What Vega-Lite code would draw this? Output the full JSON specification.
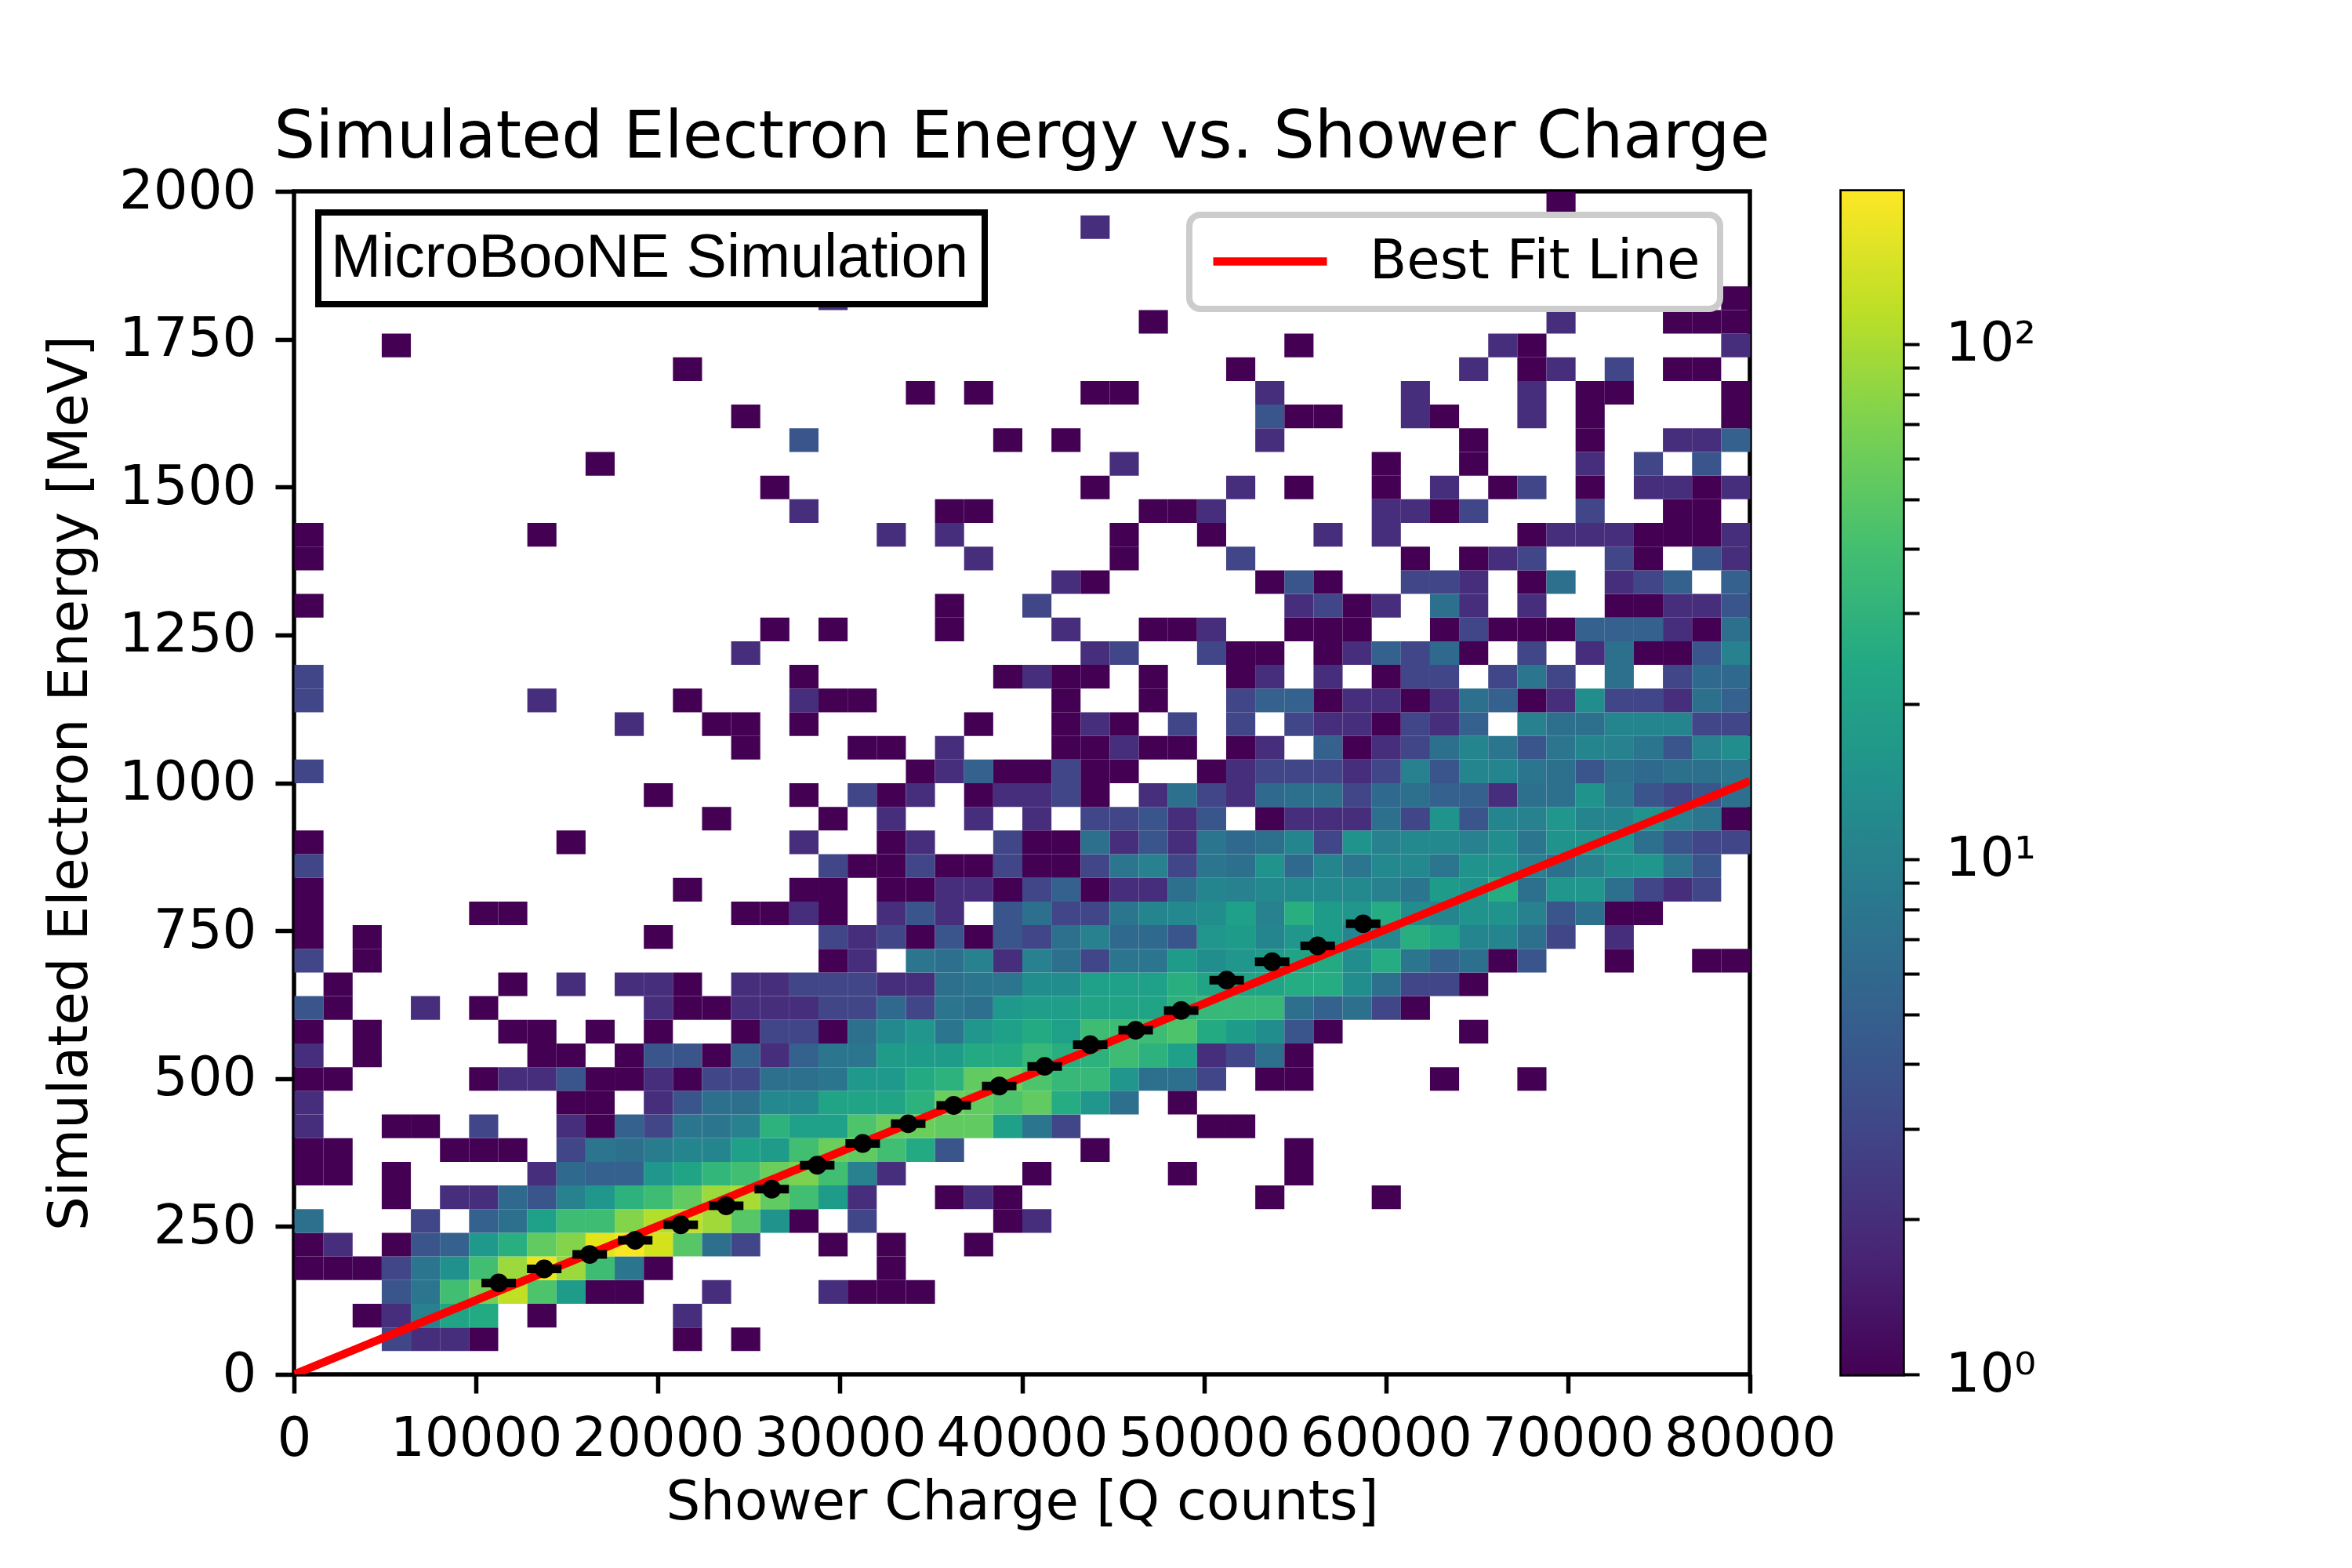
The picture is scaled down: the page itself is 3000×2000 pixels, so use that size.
{
  "$schema": "https://vega.github.io/schema/vega-lite/v6.json",
  "background": "white",
  "padding": {"left": 52, "top": 132, "right": 0, "bottom": 0},
  "bounds": "flush",
  "spacing": 117,
  "config": {
    "font": "DejaVu Sans",
    "view": {"stroke": "black", "strokeWidth": 5.5},
    "axis": {
      "domain": false, "grid": false,
      "labelFont": "DejaVu Sans", "labelFontSize": 69, "labelColor": "black", "labelLimit": 1000,
      "tickColor": "black", "tickSize": 24, "tickWidth": 5.5, "labelPadding": 24,
      "titleFont": "DejaVu Sans", "titleFontSize": 69, "titleFontWeight": "normal", "titleColor": "black",
      "labelFlush": false, "labelOverlap": false
    },
    "legend": {"strokeWidth": 8},
    "title": {"font": "DejaVu Sans", "fontSize": 83, "fontWeight": "normal", "color": "black"}
  },
  "datasets": {
    "cells": [
      {"q":5600,"e":60,"n":3},{"q":7200,"e":60,"n":2},{"q":8800,"e":60,"n":2},{"q":10400,"e":60,"n":1},{"q":21600,"e":60,"n":1},{"q":24800,"e":60,"n":1},
      {"q":4000,"e":100,"n":1},{"q":5600,"e":100,"n":2},{"q":7200,"e":100,"n":10},{"q":8800,"e":100,"n":22},{"q":10400,"e":100,"n":25},{"q":13600,"e":100,"n":1},{"q":21600,"e":100,"n":2},
      {"q":5600,"e":140,"n":4},{"q":7200,"e":140,"n":8},{"q":8800,"e":140,"n":40},{"q":10400,"e":140,"n":65},{"q":12000,"e":140,"n":120},{"q":13600,"e":140,"n":45},{"q":15200,"e":140,"n":18},{"q":16800,"e":140,"n":1},{"q":18400,"e":140,"n":1},{"q":23200,"e":140,"n":2},{"q":29600,"e":140,"n":2},{"q":31200,"e":140,"n":1},{"q":32800,"e":140,"n":1},{"q":34400,"e":140,"n":1},
      {"q":800,"e":180,"n":1},{"q":2400,"e":180,"n":1},{"q":4000,"e":180,"n":1},{"q":5600,"e":180,"n":3},{"q":7200,"e":180,"n":8},{"q":8800,"e":180,"n":14},{"q":10400,"e":180,"n":40},{"q":12000,"e":180,"n":90},{"q":13600,"e":180,"n":170},{"q":15200,"e":180,"n":90},{"q":16800,"e":180,"n":38},{"q":18400,"e":180,"n":8},{"q":20000,"e":180,"n":1},{"q":32800,"e":180,"n":1},
      {"q":800,"e":220,"n":1},{"q":2400,"e":220,"n":2},{"q":5600,"e":220,"n":1},{"q":7200,"e":220,"n":4},{"q":8800,"e":220,"n":5},{"q":10400,"e":220,"n":17},{"q":12000,"e":220,"n":28},{"q":13600,"e":220,"n":55},{"q":15200,"e":220,"n":75},{"q":16800,"e":220,"n":160},{"q":18400,"e":220,"n":190},{"q":20000,"e":220,"n":140},{"q":21600,"e":220,"n":50},{"q":23200,"e":220,"n":7},{"q":24800,"e":220,"n":3},{"q":29600,"e":220,"n":1},{"q":32800,"e":220,"n":1},{"q":37600,"e":220,"n":1},
      {"q":800,"e":260,"n":7},{"q":7200,"e":260,"n":3},{"q":10400,"e":260,"n":5},{"q":12000,"e":260,"n":7},{"q":13600,"e":260,"n":20},{"q":15200,"e":260,"n":38},{"q":16800,"e":260,"n":38},{"q":18400,"e":260,"n":75},{"q":20000,"e":260,"n":110},{"q":21600,"e":260,"n":120},{"q":23200,"e":260,"n":95},{"q":24800,"e":260,"n":50},{"q":26400,"e":260,"n":15},{"q":28000,"e":260,"n":1},{"q":31200,"e":260,"n":3},{"q":39200,"e":260,"n":1},{"q":40800,"e":260,"n":2},
      {"q":5600,"e":300,"n":1},{"q":8800,"e":300,"n":2},{"q":10400,"e":300,"n":2},{"q":12000,"e":300,"n":6},{"q":13600,"e":300,"n":4},{"q":15200,"e":300,"n":10},{"q":16800,"e":300,"n":16},{"q":18400,"e":300,"n":30},{"q":20000,"e":300,"n":38},{"q":21600,"e":300,"n":55},{"q":23200,"e":300,"n":90},{"q":24800,"e":300,"n":100},{"q":26400,"e":300,"n":55},{"q":28000,"e":300,"n":40},{"q":29600,"e":300,"n":18},{"q":31200,"e":300,"n":2},{"q":36000,"e":300,"n":1},{"q":37600,"e":300,"n":2},{"q":39200,"e":300,"n":1},{"q":53600,"e":300,"n":1},{"q":60000,"e":300,"n":1},
      {"q":800,"e":340,"n":1},{"q":2400,"e":340,"n":1},{"q":5600,"e":340,"n":1},{"q":13600,"e":340,"n":2},{"q":15200,"e":340,"n":6},{"q":16800,"e":340,"n":5},{"q":18400,"e":340,"n":5},{"q":20000,"e":340,"n":16},{"q":21600,"e":340,"n":22},{"q":23200,"e":340,"n":33},{"q":24800,"e":340,"n":40},{"q":26400,"e":340,"n":60},{"q":28000,"e":340,"n":70},{"q":29600,"e":340,"n":40},{"q":31200,"e":340,"n":10},{"q":32800,"e":340,"n":2},{"q":40800,"e":340,"n":1},{"q":48800,"e":340,"n":1},{"q":55200,"e":340,"n":1},
      {"q":800,"e":380,"n":1},{"q":2400,"e":380,"n":1},{"q":8800,"e":380,"n":1},{"q":10400,"e":380,"n":1},{"q":12000,"e":380,"n":1},{"q":15200,"e":380,"n":3},{"q":16800,"e":380,"n":8},{"q":18400,"e":380,"n":7},{"q":20000,"e":380,"n":9},{"q":21600,"e":380,"n":11},{"q":23200,"e":380,"n":11},{"q":24800,"e":380,"n":20},{"q":26400,"e":380,"n":18},{"q":28000,"e":380,"n":40},{"q":29600,"e":380,"n":60},{"q":31200,"e":380,"n":55},{"q":32800,"e":380,"n":40},{"q":34400,"e":380,"n":25},{"q":36000,"e":380,"n":4},{"q":44000,"e":380,"n":1},{"q":55200,"e":380,"n":1},
      {"q":800,"e":420,"n":2},{"q":5600,"e":420,"n":1},{"q":7200,"e":420,"n":1},{"q":10400,"e":420,"n":3},{"q":15200,"e":420,"n":2},{"q":16800,"e":420,"n":1},{"q":18400,"e":420,"n":5},{"q":20000,"e":420,"n":3},{"q":21600,"e":420,"n":8},{"q":23200,"e":420,"n":8},{"q":24800,"e":420,"n":10},{"q":26400,"e":420,"n":30},{"q":28000,"e":420,"n":20},{"q":29600,"e":420,"n":20},{"q":31200,"e":420,"n":45},{"q":32800,"e":420,"n":60},{"q":34400,"e":420,"n":60},{"q":36000,"e":420,"n":55},{"q":37600,"e":420,"n":55},{"q":39200,"e":420,"n":20},{"q":40800,"e":420,"n":8},{"q":42400,"e":420,"n":3},{"q":50400,"e":420,"n":1},{"q":52000,"e":420,"n":1},
      {"q":800,"e":460,"n":2},{"q":15200,"e":460,"n":1},{"q":16800,"e":460,"n":1},{"q":20000,"e":460,"n":2},{"q":21600,"e":460,"n":4},{"q":23200,"e":460,"n":7},{"q":24800,"e":460,"n":7},{"q":26400,"e":460,"n":12},{"q":28000,"e":460,"n":12},{"q":29600,"e":460,"n":22},{"q":31200,"e":460,"n":22},{"q":32800,"e":460,"n":22},{"q":34400,"e":460,"n":30},{"q":36000,"e":460,"n":60},{"q":37600,"e":460,"n":55},{"q":39200,"e":460,"n":45},{"q":40800,"e":460,"n":55},{"q":42400,"e":460,"n":26},{"q":44000,"e":460,"n":16},{"q":45600,"e":460,"n":7},{"q":48800,"e":460,"n":1},
      {"q":800,"e":500,"n":1},{"q":2400,"e":500,"n":1},{"q":10400,"e":500,"n":1},{"q":12000,"e":500,"n":2},{"q":13600,"e":500,"n":2},{"q":15200,"e":500,"n":4},{"q":16800,"e":500,"n":1},{"q":18400,"e":500,"n":1},{"q":20000,"e":500,"n":2},{"q":21600,"e":500,"n":1},{"q":23200,"e":500,"n":3},{"q":24800,"e":500,"n":3},{"q":26400,"e":500,"n":7},{"q":28000,"e":500,"n":7},{"q":29600,"e":500,"n":8},{"q":31200,"e":500,"n":17},{"q":32800,"e":500,"n":17},{"q":34400,"e":500,"n":25},{"q":36000,"e":500,"n":30},{"q":37600,"e":500,"n":55},{"q":39200,"e":500,"n":60},{"q":40800,"e":500,"n":45},{"q":42400,"e":500,"n":35},{"q":44000,"e":500,"n":35},{"q":45600,"e":500,"n":16},{"q":47200,"e":500,"n":7},{"q":48800,"e":500,"n":7},{"q":50400,"e":500,"n":3},{"q":53600,"e":500,"n":1},{"q":55200,"e":500,"n":1},{"q":63200,"e":500,"n":1},{"q":68000,"e":500,"n":1},
      {"q":800,"e":540,"n":2},{"q":4000,"e":540,"n":1},{"q":13600,"e":540,"n":1},{"q":15200,"e":540,"n":1},{"q":18400,"e":540,"n":1},{"q":20000,"e":540,"n":4},{"q":21600,"e":540,"n":4},{"q":23200,"e":540,"n":1},{"q":24800,"e":540,"n":5},{"q":26400,"e":540,"n":2},{"q":28000,"e":540,"n":5},{"q":29600,"e":540,"n":8},{"q":31200,"e":540,"n":8},{"q":32800,"e":540,"n":18},{"q":34400,"e":540,"n":18},{"q":36000,"e":540,"n":18},{"q":37600,"e":540,"n":25},{"q":39200,"e":540,"n":25},{"q":40800,"e":540,"n":35},{"q":42400,"e":540,"n":28},{"q":44000,"e":540,"n":30},{"q":45600,"e":540,"n":38},{"q":47200,"e":540,"n":30},{"q":48800,"e":540,"n":20},{"q":50400,"e":540,"n":2},{"q":52000,"e":540,"n":3},{"q":53600,"e":540,"n":7},{"q":55200,"e":540,"n":1},
      {"q":800,"e":580,"n":1},{"q":4000,"e":580,"n":1},{"q":12000,"e":580,"n":1},{"q":13600,"e":580,"n":1},{"q":16800,"e":580,"n":1},{"q":20000,"e":580,"n":1},{"q":24800,"e":580,"n":1},{"q":26400,"e":580,"n":3},{"q":28000,"e":580,"n":3},{"q":29600,"e":580,"n":1},{"q":31200,"e":580,"n":7},{"q":32800,"e":580,"n":12},{"q":34400,"e":580,"n":16},{"q":36000,"e":580,"n":8},{"q":37600,"e":580,"n":16},{"q":39200,"e":580,"n":20},{"q":40800,"e":580,"n":25},{"q":42400,"e":580,"n":20},{"q":44000,"e":580,"n":38},{"q":45600,"e":580,"n":38},{"q":47200,"e":580,"n":38},{"q":48800,"e":580,"n":45},{"q":50400,"e":580,"n":25},{"q":52000,"e":580,"n":18},{"q":53600,"e":580,"n":13},{"q":55200,"e":580,"n":4},{"q":56800,"e":580,"n":1},{"q":64800,"e":580,"n":1},
      {"q":800,"e":620,"n":4},{"q":2400,"e":620,"n":1},{"q":7200,"e":620,"n":2},{"q":10400,"e":620,"n":1},{"q":20000,"e":620,"n":2},{"q":21600,"e":620,"n":1},{"q":23200,"e":620,"n":1},{"q":24800,"e":620,"n":2},{"q":26400,"e":620,"n":2},{"q":28000,"e":620,"n":2},{"q":29600,"e":620,"n":3},{"q":31200,"e":620,"n":3},{"q":32800,"e":620,"n":6},{"q":34400,"e":620,"n":3},{"q":36000,"e":620,"n":8},{"q":37600,"e":620,"n":7},{"q":39200,"e":620,"n":17},{"q":40800,"e":620,"n":19},{"q":42400,"e":620,"n":19},{"q":44000,"e":620,"n":22},{"q":45600,"e":620,"n":22},{"q":47200,"e":620,"n":22},{"q":48800,"e":620,"n":30},{"q":50400,"e":620,"n":35},{"q":52000,"e":620,"n":35},{"q":53600,"e":620,"n":35},{"q":55200,"e":620,"n":7},{"q":56800,"e":620,"n":5},{"q":58400,"e":620,"n":7},{"q":60000,"e":620,"n":3},{"q":61600,"e":620,"n":1},
      {"q":2400,"e":660,"n":1},{"q":12000,"e":660,"n":1},{"q":15200,"e":660,"n":2},{"q":18400,"e":660,"n":2},{"q":20000,"e":660,"n":2},{"q":21600,"e":660,"n":1},{"q":24800,"e":660,"n":2},{"q":26400,"e":660,"n":2},{"q":28000,"e":660,"n":3},{"q":29600,"e":660,"n":3},{"q":31200,"e":660,"n":3},{"q":32800,"e":660,"n":2},{"q":34400,"e":660,"n":2},{"q":36000,"e":660,"n":7},{"q":37600,"e":660,"n":8},{"q":39200,"e":660,"n":8},{"q":40800,"e":660,"n":13},{"q":42400,"e":660,"n":13},{"q":44000,"e":660,"n":20},{"q":45600,"e":660,"n":20},{"q":47200,"e":660,"n":20},{"q":48800,"e":660,"n":28},{"q":50400,"e":660,"n":22},{"q":52000,"e":660,"n":22},{"q":53600,"e":660,"n":22},{"q":55200,"e":660,"n":26},{"q":56800,"e":660,"n":26},{"q":58400,"e":660,"n":13},{"q":60000,"e":660,"n":7},{"q":61600,"e":660,"n":3},{"q":63200,"e":660,"n":3},{"q":64800,"e":660,"n":1},
      {"q":800,"e":700,"n":3},{"q":4000,"e":700,"n":1},{"q":29600,"e":700,"n":1},{"q":31200,"e":700,"n":2},{"q":34400,"e":700,"n":8},{"q":36000,"e":700,"n":7},{"q":37600,"e":700,"n":10},{"q":39200,"e":700,"n":2},{"q":40800,"e":700,"n":10},{"q":42400,"e":700,"n":7},{"q":44000,"e":700,"n":3},{"q":45600,"e":700,"n":8},{"q":47200,"e":700,"n":8},{"q":48800,"e":700,"n":18},{"q":50400,"e":700,"n":13},{"q":52000,"e":700,"n":16},{"q":53600,"e":700,"n":18},{"q":55200,"e":700,"n":22},{"q":56800,"e":700,"n":25},{"q":58400,"e":700,"n":13},{"q":60000,"e":700,"n":26},{"q":61600,"e":700,"n":8},{"q":63200,"e":700,"n":5},{"q":64800,"e":700,"n":7},{"q":66400,"e":700,"n":1},{"q":68000,"e":700,"n":4},{"q":72800,"e":700,"n":1},{"q":77600,"e":700,"n":1},{"q":79200,"e":700,"n":1},
      {"q":800,"e":740,"n":1},{"q":4000,"e":740,"n":1},{"q":20000,"e":740,"n":1},{"q":29600,"e":740,"n":3},{"q":31200,"e":740,"n":2},{"q":32800,"e":740,"n":3},{"q":34400,"e":740,"n":1},{"q":36000,"e":740,"n":4},{"q":37600,"e":740,"n":1},{"q":39200,"e":740,"n":4},{"q":40800,"e":740,"n":3},{"q":42400,"e":740,"n":7},{"q":44000,"e":740,"n":10},{"q":45600,"e":740,"n":6},{"q":47200,"e":740,"n":6},{"q":48800,"e":740,"n":4},{"q":50400,"e":740,"n":16},{"q":52000,"e":740,"n":18},{"q":53600,"e":740,"n":11},{"q":55200,"e":740,"n":16},{"q":56800,"e":740,"n":18},{"q":58400,"e":740,"n":11},{"q":60000,"e":740,"n":12},{"q":61600,"e":740,"n":28},{"q":63200,"e":740,"n":22},{"q":64800,"e":740,"n":11},{"q":66400,"e":740,"n":11},{"q":68000,"e":740,"n":7},{"q":69600,"e":740,"n":3},{"q":72800,"e":740,"n":2},
      {"q":800,"e":780,"n":1},{"q":10400,"e":780,"n":1},{"q":12000,"e":780,"n":1},{"q":24800,"e":780,"n":1},{"q":26400,"e":780,"n":1},{"q":28000,"e":780,"n":2},{"q":29600,"e":780,"n":1},{"q":32800,"e":780,"n":2},{"q":34400,"e":780,"n":4},{"q":36000,"e":780,"n":2},{"q":39200,"e":780,"n":4},{"q":40800,"e":780,"n":7},{"q":42400,"e":780,"n":3},{"q":44000,"e":780,"n":3},{"q":45600,"e":780,"n":8},{"q":47200,"e":780,"n":11},{"q":48800,"e":780,"n":12},{"q":50400,"e":780,"n":13},{"q":52000,"e":780,"n":20},{"q":53600,"e":780,"n":10},{"q":55200,"e":780,"n":28},{"q":56800,"e":780,"n":18},{"q":58400,"e":780,"n":16},{"q":60000,"e":780,"n":26},{"q":61600,"e":780,"n":13},{"q":63200,"e":780,"n":11},{"q":64800,"e":780,"n":15},{"q":66400,"e":780,"n":15},{"q":68000,"e":780,"n":10},{"q":69600,"e":780,"n":4},{"q":71200,"e":780,"n":7},{"q":72800,"e":780,"n":1},{"q":74400,"e":780,"n":1},
      {"q":800,"e":820,"n":1},{"q":21600,"e":820,"n":1},{"q":28000,"e":820,"n":1},{"q":29600,"e":820,"n":1},{"q":32800,"e":820,"n":1},{"q":34400,"e":820,"n":1},{"q":36000,"e":820,"n":2},{"q":37600,"e":820,"n":2},{"q":39200,"e":820,"n":1},{"q":40800,"e":820,"n":3},{"q":42400,"e":820,"n":5},{"q":44000,"e":820,"n":1},{"q":45600,"e":820,"n":2},{"q":47200,"e":820,"n":2},{"q":48800,"e":820,"n":7},{"q":50400,"e":820,"n":11},{"q":52000,"e":820,"n":10},{"q":53600,"e":820,"n":12},{"q":55200,"e":820,"n":12},{"q":56800,"e":820,"n":12},{"q":58400,"e":820,"n":12},{"q":60000,"e":820,"n":10},{"q":61600,"e":820,"n":8},{"q":63200,"e":820,"n":18},{"q":64800,"e":820,"n":15},{"q":66400,"e":820,"n":26},{"q":68000,"e":820,"n":7},{"q":69600,"e":820,"n":16},{"q":71200,"e":820,"n":16},{"q":72800,"e":820,"n":7},{"q":74400,"e":820,"n":3},{"q":76000,"e":820,"n":2},{"q":77600,"e":820,"n":3},
      {"q":800,"e":860,"n":3},{"q":29600,"e":860,"n":3},{"q":31200,"e":860,"n":1},{"q":32800,"e":860,"n":1},{"q":34400,"e":860,"n":3},{"q":36000,"e":860,"n":1},{"q":37600,"e":860,"n":1},{"q":39200,"e":860,"n":3},{"q":40800,"e":860,"n":1},{"q":42400,"e":860,"n":1},{"q":44000,"e":860,"n":3},{"q":45600,"e":860,"n":8},{"q":47200,"e":860,"n":10},{"q":48800,"e":860,"n":3},{"q":50400,"e":860,"n":8},{"q":52000,"e":860,"n":7},{"q":53600,"e":860,"n":15},{"q":55200,"e":860,"n":6},{"q":56800,"e":860,"n":11},{"q":58400,"e":860,"n":8},{"q":60000,"e":860,"n":12},{"q":61600,"e":860,"n":12},{"q":63200,"e":860,"n":8},{"q":64800,"e":860,"n":15},{"q":66400,"e":860,"n":15},{"q":68000,"e":860,"n":10},{"q":69600,"e":860,"n":7},{"q":71200,"e":860,"n":10},{"q":72800,"e":860,"n":15},{"q":74400,"e":860,"n":16},{"q":76000,"e":860,"n":8},{"q":77600,"e":860,"n":4},
      {"q":800,"e":900,"n":1},{"q":15200,"e":900,"n":1},{"q":28000,"e":900,"n":2},{"q":32800,"e":900,"n":1},{"q":34400,"e":900,"n":2},{"q":39200,"e":900,"n":3},{"q":40800,"e":900,"n":1},{"q":42400,"e":900,"n":1},{"q":44000,"e":900,"n":7},{"q":45600,"e":900,"n":2},{"q":47200,"e":900,"n":4},{"q":48800,"e":900,"n":2},{"q":50400,"e":900,"n":8},{"q":52000,"e":900,"n":6},{"q":53600,"e":900,"n":7},{"q":55200,"e":900,"n":11},{"q":56800,"e":900,"n":3},{"q":58400,"e":900,"n":15},{"q":60000,"e":900,"n":10},{"q":61600,"e":900,"n":12},{"q":63200,"e":900,"n":12},{"q":64800,"e":900,"n":10},{"q":66400,"e":900,"n":13},{"q":68000,"e":900,"n":8},{"q":69600,"e":900,"n":15},{"q":71200,"e":900,"n":15},{"q":72800,"e":900,"n":15},{"q":74400,"e":900,"n":7},{"q":76000,"e":900,"n":4},{"q":77600,"e":900,"n":3},{"q":79200,"e":900,"n":3},
      {"q":23200,"e":940,"n":1},{"q":29600,"e":940,"n":1},{"q":32800,"e":940,"n":2},{"q":37600,"e":940,"n":2},{"q":40800,"e":940,"n":2},{"q":44000,"e":940,"n":3},{"q":45600,"e":940,"n":3},{"q":47200,"e":940,"n":4},{"q":48800,"e":940,"n":2},{"q":50400,"e":940,"n":4},{"q":53600,"e":940,"n":1},{"q":55200,"e":940,"n":2},{"q":56800,"e":940,"n":2},{"q":58400,"e":940,"n":2},{"q":60000,"e":940,"n":7},{"q":61600,"e":940,"n":3},{"q":63200,"e":940,"n":15},{"q":64800,"e":940,"n":4},{"q":66400,"e":940,"n":11},{"q":68000,"e":940,"n":10},{"q":69600,"e":940,"n":16},{"q":71200,"e":940,"n":11},{"q":72800,"e":940,"n":11},{"q":74400,"e":940,"n":15},{"q":76000,"e":940,"n":10},{"q":77600,"e":940,"n":8},{"q":79200,"e":940,"n":1},
      {"q":20000,"e":980,"n":1},{"q":28000,"e":980,"n":1},{"q":31200,"e":980,"n":3},{"q":32800,"e":980,"n":1},{"q":34400,"e":980,"n":2},{"q":37600,"e":980,"n":1},{"q":39200,"e":980,"n":2},{"q":40800,"e":980,"n":2},{"q":42400,"e":980,"n":3},{"q":44000,"e":980,"n":1},{"q":47200,"e":980,"n":2},{"q":48800,"e":980,"n":7},{"q":50400,"e":980,"n":3},{"q":52000,"e":980,"n":2},{"q":53600,"e":980,"n":6},{"q":55200,"e":980,"n":7},{"q":56800,"e":980,"n":7},{"q":58400,"e":980,"n":3},{"q":60000,"e":980,"n":6},{"q":61600,"e":980,"n":7},{"q":63200,"e":980,"n":5},{"q":64800,"e":980,"n":5},{"q":66400,"e":980,"n":2},{"q":68000,"e":980,"n":7},{"q":69600,"e":980,"n":7},{"q":71200,"e":980,"n":15},{"q":72800,"e":980,"n":8},{"q":74400,"e":980,"n":4},{"q":76000,"e":980,"n":3},{"q":77600,"e":980,"n":4},{"q":79200,"e":980,"n":7},
      {"q":800,"e":1020,"n":3},{"q":34400,"e":1020,"n":1},{"q":36000,"e":1020,"n":2},{"q":37600,"e":1020,"n":5},{"q":39200,"e":1020,"n":1},{"q":40800,"e":1020,"n":1},{"q":42400,"e":1020,"n":3},{"q":44000,"e":1020,"n":1},{"q":45600,"e":1020,"n":1},{"q":50400,"e":1020,"n":1},{"q":52000,"e":1020,"n":2},{"q":53600,"e":1020,"n":3},{"q":55200,"e":1020,"n":3},{"q":56800,"e":1020,"n":3},{"q":58400,"e":1020,"n":2},{"q":60000,"e":1020,"n":3},{"q":61600,"e":1020,"n":10},{"q":63200,"e":1020,"n":4},{"q":64800,"e":1020,"n":11},{"q":66400,"e":1020,"n":11},{"q":68000,"e":1020,"n":8},{"q":69600,"e":1020,"n":7},{"q":71200,"e":1020,"n":4},{"q":72800,"e":1020,"n":7},{"q":74400,"e":1020,"n":6},{"q":76000,"e":1020,"n":7},{"q":77600,"e":1020,"n":7},{"q":79200,"e":1020,"n":8},
      {"q":24800,"e":1060,"n":1},{"q":31200,"e":1060,"n":1},{"q":32800,"e":1060,"n":1},{"q":36000,"e":1060,"n":2},{"q":42400,"e":1060,"n":1},{"q":44000,"e":1060,"n":1},{"q":45600,"e":1060,"n":2},{"q":47200,"e":1060,"n":1},{"q":48800,"e":1060,"n":1},{"q":52000,"e":1060,"n":1},{"q":53600,"e":1060,"n":2},{"q":56800,"e":1060,"n":5},{"q":58400,"e":1060,"n":1},{"q":60000,"e":1060,"n":2},{"q":61600,"e":1060,"n":3},{"q":63200,"e":1060,"n":7},{"q":64800,"e":1060,"n":11},{"q":66400,"e":1060,"n":8},{"q":68000,"e":1060,"n":4},{"q":69600,"e":1060,"n":8},{"q":71200,"e":1060,"n":11},{"q":72800,"e":1060,"n":10},{"q":74400,"e":1060,"n":8},{"q":76000,"e":1060,"n":4},{"q":77600,"e":1060,"n":10},{"q":79200,"e":1060,"n":13},
      {"q":18400,"e":1100,"n":2},{"q":23200,"e":1100,"n":1},{"q":24800,"e":1100,"n":1},{"q":28000,"e":1100,"n":1},{"q":37600,"e":1100,"n":1},{"q":42400,"e":1100,"n":1},{"q":44000,"e":1100,"n":2},{"q":45600,"e":1100,"n":1},{"q":48800,"e":1100,"n":3},{"q":52000,"e":1100,"n":3},{"q":55200,"e":1100,"n":3},{"q":56800,"e":1100,"n":2},{"q":58400,"e":1100,"n":2},{"q":60000,"e":1100,"n":1},{"q":61600,"e":1100,"n":3},{"q":63200,"e":1100,"n":2},{"q":64800,"e":1100,"n":5},{"q":68000,"e":1100,"n":10},{"q":69600,"e":1100,"n":7},{"q":71200,"e":1100,"n":7},{"q":72800,"e":1100,"n":11},{"q":74400,"e":1100,"n":11},{"q":76000,"e":1100,"n":11},{"q":77600,"e":1100,"n":3},{"q":79200,"e":1100,"n":3},
      {"q":800,"e":1140,"n":3},{"q":13600,"e":1140,"n":2},{"q":21600,"e":1140,"n":1},{"q":28000,"e":1140,"n":2},{"q":29600,"e":1140,"n":1},{"q":31200,"e":1140,"n":1},{"q":42400,"e":1140,"n":1},{"q":47200,"e":1140,"n":1},{"q":52000,"e":1140,"n":3},{"q":53600,"e":1140,"n":5},{"q":55200,"e":1140,"n":5},{"q":56800,"e":1140,"n":1},{"q":58400,"e":1140,"n":2},{"q":60000,"e":1140,"n":2},{"q":61600,"e":1140,"n":1},{"q":63200,"e":1140,"n":2},{"q":64800,"e":1140,"n":7},{"q":66400,"e":1140,"n":5},{"q":68000,"e":1140,"n":1},{"q":69600,"e":1140,"n":2},{"q":71200,"e":1140,"n":13},{"q":72800,"e":1140,"n":3},{"q":74400,"e":1140,"n":3},{"q":76000,"e":1140,"n":2},{"q":77600,"e":1140,"n":7},{"q":79200,"e":1140,"n":5},
      {"q":800,"e":1180,"n":3},{"q":28000,"e":1180,"n":1},{"q":39200,"e":1180,"n":1},{"q":40800,"e":1180,"n":2},{"q":42400,"e":1180,"n":1},{"q":44000,"e":1180,"n":1},{"q":47200,"e":1180,"n":1},{"q":52000,"e":1180,"n":1},{"q":53600,"e":1180,"n":2},{"q":56800,"e":1180,"n":2},{"q":60000,"e":1180,"n":1},{"q":61600,"e":1180,"n":3},{"q":63200,"e":1180,"n":3},{"q":66400,"e":1180,"n":3},{"q":68000,"e":1180,"n":8},{"q":69600,"e":1180,"n":3},{"q":72800,"e":1180,"n":7},{"q":76000,"e":1180,"n":3},{"q":77600,"e":1180,"n":6},{"q":79200,"e":1180,"n":6},
      {"q":24800,"e":1220,"n":2},{"q":44000,"e":1220,"n":2},{"q":45600,"e":1220,"n":3},{"q":50400,"e":1220,"n":3},{"q":52000,"e":1220,"n":1},{"q":53600,"e":1220,"n":1},{"q":56800,"e":1220,"n":1},{"q":58400,"e":1220,"n":2},{"q":60000,"e":1220,"n":5},{"q":61600,"e":1220,"n":3},{"q":63200,"e":1220,"n":6},{"q":64800,"e":1220,"n":1},{"q":68000,"e":1220,"n":3},{"q":71200,"e":1220,"n":2},{"q":72800,"e":1220,"n":7},{"q":74400,"e":1220,"n":1},{"q":76000,"e":1220,"n":1},{"q":77600,"e":1220,"n":4},{"q":79200,"e":1220,"n":10},
      {"q":26400,"e":1260,"n":1},{"q":29600,"e":1260,"n":1},{"q":36000,"e":1260,"n":1},{"q":42400,"e":1260,"n":2},{"q":47200,"e":1260,"n":1},{"q":48800,"e":1260,"n":1},{"q":50400,"e":1260,"n":2},{"q":55200,"e":1260,"n":1},{"q":56800,"e":1260,"n":1},{"q":58400,"e":1260,"n":1},{"q":63200,"e":1260,"n":1},{"q":64800,"e":1260,"n":3},{"q":66400,"e":1260,"n":1},{"q":68000,"e":1260,"n":1},{"q":69600,"e":1260,"n":1},{"q":71200,"e":1260,"n":5},{"q":72800,"e":1260,"n":5},{"q":74400,"e":1260,"n":5},{"q":76000,"e":1260,"n":2},{"q":77600,"e":1260,"n":1},{"q":79200,"e":1260,"n":7},
      {"q":800,"e":1300,"n":1},{"q":36000,"e":1300,"n":1},{"q":40800,"e":1300,"n":3},{"q":55200,"e":1300,"n":2},{"q":56800,"e":1300,"n":3},{"q":58400,"e":1300,"n":1},{"q":60000,"e":1300,"n":2},{"q":63200,"e":1300,"n":7},{"q":64800,"e":1300,"n":2},{"q":68000,"e":1300,"n":2},{"q":72800,"e":1300,"n":1},{"q":74400,"e":1300,"n":1},{"q":76000,"e":1300,"n":2},{"q":77600,"e":1300,"n":2},{"q":79200,"e":1300,"n":4},
      {"q":42400,"e":1340,"n":2},{"q":44000,"e":1340,"n":1},{"q":53600,"e":1340,"n":1},{"q":55200,"e":1340,"n":4},{"q":56800,"e":1340,"n":1},{"q":61600,"e":1340,"n":3},{"q":63200,"e":1340,"n":3},{"q":64800,"e":1340,"n":2},{"q":68000,"e":1340,"n":1},{"q":69600,"e":1340,"n":7},{"q":72800,"e":1340,"n":2},{"q":74400,"e":1340,"n":3},{"q":76000,"e":1340,"n":5},{"q":79200,"e":1340,"n":5},
      {"q":800,"e":1380,"n":1},{"q":37600,"e":1380,"n":2},{"q":45600,"e":1380,"n":1},{"q":52000,"e":1380,"n":3},{"q":61600,"e":1380,"n":1},{"q":64800,"e":1380,"n":1},{"q":66400,"e":1380,"n":2},{"q":68000,"e":1380,"n":3},{"q":72800,"e":1380,"n":3},{"q":74400,"e":1380,"n":1},{"q":77600,"e":1380,"n":4},{"q":79200,"e":1380,"n":2},
      {"q":800,"e":1420,"n":1},{"q":13600,"e":1420,"n":1},{"q":32800,"e":1420,"n":2},{"q":36000,"e":1420,"n":2},{"q":45600,"e":1420,"n":1},{"q":50400,"e":1420,"n":1},{"q":56800,"e":1420,"n":2},{"q":60000,"e":1420,"n":2},{"q":68000,"e":1420,"n":1},{"q":69600,"e":1420,"n":2},{"q":71200,"e":1420,"n":2},{"q":72800,"e":1420,"n":2},{"q":74400,"e":1420,"n":1},{"q":76000,"e":1420,"n":1},{"q":77600,"e":1420,"n":1},{"q":79200,"e":1420,"n":2},
      {"q":28000,"e":1460,"n":2},{"q":36000,"e":1460,"n":1},{"q":37600,"e":1460,"n":1},{"q":47200,"e":1460,"n":1},{"q":48800,"e":1460,"n":1},{"q":50400,"e":1460,"n":2},{"q":60000,"e":1460,"n":2},{"q":61600,"e":1460,"n":2},{"q":63200,"e":1460,"n":1},{"q":64800,"e":1460,"n":3},{"q":71200,"e":1460,"n":3},{"q":76000,"e":1460,"n":1},{"q":77600,"e":1460,"n":1},
      {"q":26400,"e":1500,"n":1},{"q":44000,"e":1500,"n":1},{"q":52000,"e":1500,"n":2},{"q":55200,"e":1500,"n":1},{"q":60000,"e":1500,"n":1},{"q":63200,"e":1500,"n":2},{"q":66400,"e":1500,"n":1},{"q":68000,"e":1500,"n":3},{"q":71200,"e":1500,"n":1},{"q":74400,"e":1500,"n":2},{"q":76000,"e":1500,"n":2},{"q":77600,"e":1500,"n":1},{"q":79200,"e":1500,"n":2},
      {"q":16800,"e":1540,"n":1},{"q":45600,"e":1540,"n":2},{"q":60000,"e":1540,"n":1},{"q":64800,"e":1540,"n":1},{"q":71200,"e":1540,"n":2},{"q":74400,"e":1540,"n":3},{"q":77600,"e":1540,"n":4},
      {"q":28000,"e":1580,"n":4},{"q":39200,"e":1580,"n":1},{"q":42400,"e":1580,"n":1},{"q":53600,"e":1580,"n":2},{"q":64800,"e":1580,"n":1},{"q":71200,"e":1580,"n":1},{"q":76000,"e":1580,"n":2},{"q":77600,"e":1580,"n":2},{"q":79200,"e":1580,"n":5},
      {"q":24800,"e":1620,"n":1},{"q":53600,"e":1620,"n":4},{"q":55200,"e":1620,"n":1},{"q":56800,"e":1620,"n":1},{"q":61600,"e":1620,"n":2},{"q":63200,"e":1620,"n":1},{"q":68000,"e":1620,"n":2},{"q":71200,"e":1620,"n":1},{"q":79200,"e":1620,"n":1},
      {"q":34400,"e":1660,"n":1},{"q":37600,"e":1660,"n":1},{"q":44000,"e":1660,"n":1},{"q":45600,"e":1660,"n":1},{"q":53600,"e":1660,"n":2},{"q":61600,"e":1660,"n":2},{"q":68000,"e":1660,"n":2},{"q":71200,"e":1660,"n":1},{"q":72800,"e":1660,"n":1},{"q":79200,"e":1660,"n":1},
      {"q":21600,"e":1700,"n":1},{"q":52000,"e":1700,"n":1},{"q":64800,"e":1700,"n":2},{"q":68000,"e":1700,"n":1},{"q":69600,"e":1700,"n":2},{"q":72800,"e":1700,"n":3},{"q":76000,"e":1700,"n":1},{"q":77600,"e":1700,"n":1},
      {"q":5600,"e":1740,"n":1},{"q":55200,"e":1740,"n":1},{"q":66400,"e":1740,"n":2},{"q":68000,"e":1740,"n":1},{"q":79200,"e":1740,"n":2},
      {"q":47200,"e":1780,"n":1},{"q":69600,"e":1780,"n":2},{"q":76000,"e":1780,"n":1},{"q":77600,"e":1780,"n":1},{"q":79200,"e":1780,"n":1},
      {"q":29600,"e":1820,"n":2},{"q":79200,"e":1820,"n":1},
      {"q":44000,"e":1940,"n":2},{"q":53600,"e":1940,"n":1},{"q":55200,"e":1940,"n":1},{"q":64800,"e":1940,"n":1},{"q":76000,"e":1940,"n":1},
      {"q":69600,"e":1980,"n":1}
    ],
    "profile": [
      {"q":11250,"e":154.5},{"q":13750,"e":178.3},{"q":16250,"e":202.7},{"q":18750,"e":226.5},{"q":21250,"e":252.8},
      {"q":23750,"e":285.0},{"q":26250,"e":313.2},{"q":28750,"e":353.6},{"q":31250,"e":390.3},{"q":33750,"e":423.7},
      {"q":36250,"e":454.6},{"q":38750,"e":487.4},{"q":41250,"e":520.7},{"q":43750,"e":557.3},{"q":46250,"e":581.7},
      {"q":48750,"e":615.1},{"q":51250,"e":666.5},{"q":53750,"e":697.4},{"q":56250,"e":724.3},{"q":58750,"e":761.6}
    ],
    "fit": [{"q":0,"e":0},{"q":80000,"e":1003}],
    "bar": [{"lo":1,"hi":198}]
  },
  "hconcat": [
    {
      "width": 1857,
      "height": 1509,
      "title": {"text": "Simulated Electron Energy vs. Shower Charge", "baseline": "alphabetic", "offset": -74, "anchor": "middle", "frame": "group"},
      "layer": [
        {
          "data": {"name": "cells"},
          "mark": {"type": "rect"},
          "encoding": {
            "x": {"field": "q", "type": "quantitative", "bin": {"extent": [0, 80000], "step": 1600},
                  "scale": {"domain": [0, 80000], "nice": false},
                  "title": "Shower Charge [Q counts]",
                  "axis": {"values": [0, 10000, 20000, 30000, 40000, 50000, 60000, 70000, 80000], "format": "d", "titlePadding": 12}},
            "y": {"field": "e", "type": "quantitative", "bin": {"extent": [0, 2000], "step": 40},
                  "scale": {"domain": [0, 2000], "nice": false},
                  "title": "Simulated Electron Energy [MeV]",
                  "axis": {"values": [0, 250, 500, 750, 1000, 1250, 1500, 1750, 2000], "format": "d", "titlePadding": 51}},
            "color": {"field": "n", "type": "quantitative", "scale": {"type": "log", "domain": [1, 198], "scheme": "viridis"}, "legend": null}
          }
        },
        {
          "data": {"name": "fit"},
          "mark": {"type": "line", "strokeWidth": 10.4, "clip": true},
          "encoding": {
            "x": {"field": "q", "type": "quantitative", "title": "Shower Charge [Q counts]"},
            "y": {"field": "e", "type": "quantitative", "title": "Simulated Electron Energy [MeV]"},
            "stroke": {"datum": "Best Fit Line", "type": "nominal", "scale": {"range": ["#ff0000"]},
              "legend": {"title": null, "orient": "none", "legendX": 1142, "legendY": 30,
                "symbolType": "M-1,0H4", "symbolSize": 3364,
                "symbolStrokeWidth": 10.4, "labelFont": "DejaVu Sans", "labelFontSize": 69, "labelColor": "black",
                "labelLimit": 3000, "labelOffset": 136, "padding": 25, "strokeColor": "#cccccc", "fillColor": "white",
                "cornerRadius": 14}}
          }
        },
        {
          "data": {"name": "profile"},
          "mark": {"type": "tick", "orient": "horizontal", "size": 44, "thickness": 11, "color": "black", "opacity": 1},
          "encoding": {
            "x": {"field": "q", "type": "quantitative"},
            "y": {"field": "e", "type": "quantitative"}
          }
        },
        {
          "data": {"name": "profile"},
          "mark": {"type": "point", "filled": true, "color": "black", "opacity": 1, "size": 570},
          "encoding": {
            "x": {"field": "q", "type": "quantitative"},
            "y": {"field": "e", "type": "quantitative"},
            "shape": {"datum": "MicroBooNE Simulation", "type": "nominal", "scale": {"range": ["circle"]},
              "legend": {"title": null, "orient": "none", "legendX": 31, "legendY": 27, "symbolOpacity": 0, "symbolSize": 0,
                "symbolStrokeWidth": 0, "labelOffset": -81, "labelFont": "Liberation Sans", "labelFontSize": 77,
                "labelColor": "black", "labelLimit": 3000, "padding": 20, "strokeColor": "black", "fillColor": "white",
                "cornerRadius": 0}}
          }
        }
      ]
    },
    {
      "width": 78,
      "height": 1509,
      "data": {"name": "bar"},
      "mark": {
        "type": "rect",
        "color": {"gradient": "linear", "x1": 0, "y1": 1, "x2": 0, "y2": 0,
          "stops": [
            {"offset": 0.0, "color": "#440154"}, {"offset": 0.1, "color": "#482475"},
            {"offset": 0.2, "color": "#414487"}, {"offset": 0.3, "color": "#355f8d"},
            {"offset": 0.4, "color": "#2a788e"}, {"offset": 0.5, "color": "#21918c"},
            {"offset": 0.6, "color": "#22a884"}, {"offset": 0.7, "color": "#44bf70"},
            {"offset": 0.8, "color": "#7ad151"}, {"offset": 0.9, "color": "#bddf26"},
            {"offset": 1.0, "color": "#fde725"}
          ]}
      },
      "encoding": {
        "x": {"value": 0},
        "x2": {"value": "width"},
        "y": {"field": "lo", "type": "quantitative",
              "scale": {"type": "log", "domain": [1, 198], "nice": false},
              "axis": {"orient": "right", "title": null, "values": [1,2,3,4,5,6,7,8,9,10,20,30,40,50,60,70,80,90,100],
                       "labelExpr": "datum.value == 1 ? '10⁰' : datum.value == 10 ? '10¹' : datum.value == 100 ? '10²' : ''",
                       "tickSize": 21, "tickWidth": 4, "labelPadding": 33}},
        "y2": {"field": "hi"}
      }
    }
  ]
}
